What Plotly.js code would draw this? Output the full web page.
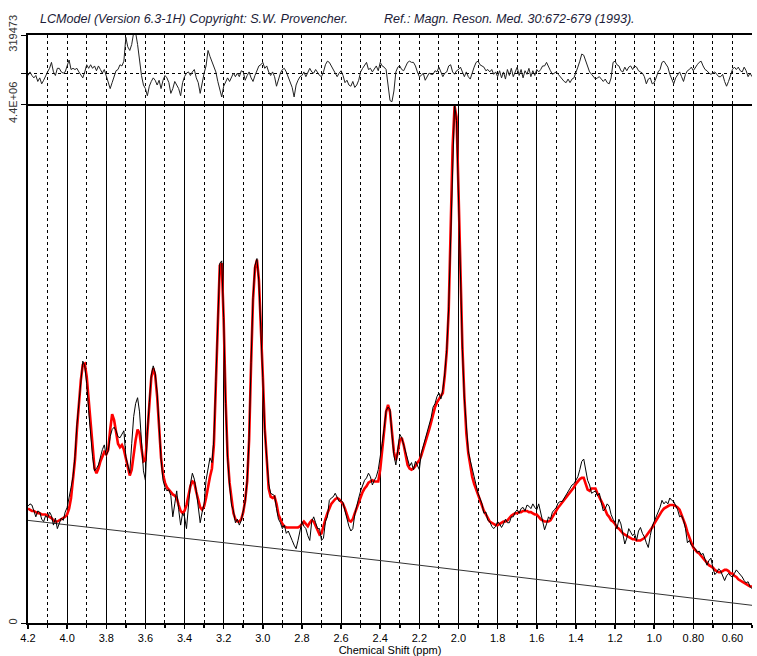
<!DOCTYPE html>
<html>
<head>
<meta charset="utf-8">
<script src="https://cdn.plot.ly/plotly-3.0.1.min.js"></script>
<style>html,body{margin:0;padding:0;background:#fff;}#chart{width:757px;height:656px;}</style>
</head>
<body>
<div id="chart"></div>
<script>
// Chemical shift grid: first point 4.20 ppm, step -0.01 ppm (371 points down to 0.50 ppm)
const ppmStart = 4.2;
const ppmStep = -0.01;

// Major ticks (solid grid) and labels, minor ticks (dashed grid)
const majorTicks = [4.2,4.0,3.8,3.6,3.4,3.2,3.0,2.8,2.6,2.4,2.2,2.0,1.8,1.6,1.4,1.2,1.0,0.8,0.6];
const majorLabels = ['4.2','4.0','3.8','3.6','3.4','3.2','3.0','2.8','2.6','2.4','2.2','2.0','1.8','1.6','1.4','1.2','1.0','0.80','0.60'];
const minorTicks = [4.1,3.9,3.7,3.5,3.3,3.1,2.9,2.7,2.5,2.3,2.1,1.9,1.7,1.5,1.3,1.1,0.9,0.7,0.5];
const residGrid = [4.2,4.1,4.0,3.9,3.8,3.7,3.6,3.5,3.4,3.3,3.2,3.1,3.0,2.9,2.8,2.7,2.6,2.5,2.4,2.3,2.2,2.1,2.0,1.9,1.8,1.7,1.6,1.5,1.4,1.3,1.2,1.1,1.0,0.9,0.8,0.7,0.6,0.5];

// Values in units of 1e4 (axis top = 4.4E+06 = 440)
const fitValues = [
97,96,95,95,94,93,93,92,92,92,
91,90,89,87,86,86,87,88,89,90,
92,97,106,121,138,164,187,206,219,220,
209,189,165,145,131,127,131,137,142,145,
143,147,164,177,172,162,152,149,151,147,
139,131,125,130,145,155,164,161,148,137,
138,164,189,208,216,210,192,164,140,126,
119,115,113,111,109,108,106,100,95,93,
95,100,108,116,120,119,111,104,98,96,
99,106,116,124,131,151,202,261,303,305,
257,189,142,119,103,93,88,86,86,88,
94,104,120,155,219,274,301,308,291,257,
210,165,134,114,107,106,107,101,92,87,
84,82,81,81,81,81,81,81,81,82,
84,86,84,82,85,87,86,82,78,75,
76,81,88,93,98,101,103,105,106,105,
103,101,97,92,87,86,88,93,98,102,
107,111,114,116,119,120,121,120,120,120,
130,145,162,179,185,179,162,145,138,145,
155,157,151,142,134,131,130,131,133,136,
138,142,147,152,157,164,170,177,183,187,
190,192,195,210,230,265,333,404,438,429,
367,293,234,192,161,144,132,124,118,113,
108,103,98,95,92,89,86,85,84,83,
83,84,85,86,86,87,89,91,92,93,
93,94,94,95,95,95,94,94,93,92,
92,90,88,87,86,86,86,87,90,92,
95,98,100,102,104,107,109,111,113,115,
118,120,122,123,123,118,113,112,114,114,
114,110,107,103,100,96,92,90,87,86,
84,81,80,78,76,75,74,73,72,71,
71,70,70,70,71,72,74,76,79,81,
84,87,90,92,95,97,98,99,100,100,
100,99,98,96,92,88,83,77,72,68,
64,62,60,59,57,55,53,51,49,48,
47,45,44,43,43,44,45,45,44,42,
42,40,39,37,36,35,34,33,32,31,
31
];

const dataValues = [
99,101,100,94,90,95,94,88,86,91,
89,94,91,83,89,80,84,89,87,94,
98,108,115,124,141,168,188,209,222,218,
203,180,160,141,129,131,134,141,147,151,
142,146,158,164,166,163,158,157,160,163,
141,133,127,152,175,186,191,179,153,129,
121,162,187,210,218,212,195,166,139,121,
115,112,113,108,90,101,112,96,83,93,
90,80,102,118,127,122,112,96,85,94,
101,121,130,140,136,156,205,264,305,307,
259,186,140,117,100,95,85,88,83,87,
95,103,121,157,221,276,303,309,289,254,
208,163,136,118,110,109,108,97,88,85,
80,83,76,78,73,70,66,63,70,79,
86,82,80,74,70,86,90,85,80,80,
70,72,86,90,104,106,107,110,107,103,
104,102,95,88,82,78,80,92,100,106,
112,116,121,123,127,124,117,121,124,130,
140,152,165,180,183,181,160,142,134,150,
160,157,150,145,139,133,136,130,137,133,
130,144,149,156,162,168,174,183,186,192,
195,190,198,212,232,268,330,402,440,426,
364,290,232,190,163,146,138,130,124,117,
110,105,101,93,94,87,86,82,80,82,
86,84,81,84,88,85,85,90,90,94,
96,93,97,98,95,100,99,97,101,98,
96,101,94,86,79,84,90,88,94,96,
98,102,103,103,106,108,112,115,117,118,
121,124,130,137,139,128,121,117,110,111,
112,108,110,102,95,97,101,99,92,88,
85,80,88,84,74,67,72,80,77,74,
76,70,78,81,76,73,68,64,74,82,
86,90,94,98,104,101,103,101,106,104,
103,100,96,90,91,87,80,68,70,66,
64,63,60,61,58,59,54,49,53,55,
47,41,43,46,44,40,36,40,42,40,
39,42,45,43,41,39,36,34,35,31,
29
];

const baselinePpm = [4.2, 2.35, 0.5];
const baselineValues = [87, 52, 15];

// Residual (data - fit), units of 1e4; panel top = 319473
const residValues = [
-2,1,-2,-4,-2,-7,-4,-9,-6,-2,
1,4,9,1,-2,4,4,1,0,1,
7,11,3,4,3,4,1,-2,-4,1,
7,4,7,4,6,2,6,3,0,3,
-2,-7,-13,-8,-3,2,3,7,6,10,
30,22,19,24,34,34,24,10,-2,-10,
-13,-19,-11,-7,-4,-6,-10,-6,-13,-6,
-2,-4,-8,-17,-13,-7,-10,-13,-19,-8,
-3,0,1,-2,1,3,-4,-8,-17,-8,
0,6,19,14,9,4,1,-7,-13,-20,
-11,-7,-4,-7,-4,0,-3,0,-3,2,
1,-6,-2,1,-4,-7,-2,2,6,7,
9,4,6,1,-2,1,-3,-11,-6,0,
3,4,1,-3,-8,-12,-20,-10,-6,-3,
-2,1,-3,1,4,1,0,3,0,-2,
-3,1,7,10,9,6,4,1,-3,0,
2,-2,-8,-6,-10,-11,-7,-12,-10,-6,
1,4,7,9,3,4,1,4,6,2,
9,6,5,3,-8,-23,-24,-15,1,5,
6,3,2,6,9,10,9,9,6,1,
-3,-2,0,-6,-3,0,-1,-1,2,1,
5,1,-3,0,1,6,7,1,-1,2,
3,5,1,-3,1,-3,-5,1,5,9,
10,7,6,5,2,3,1,3,-1,1,
-3,2,-4,1,-5,3,-2,4,-3,1,
5,-2,3,-4,2,-1,4,-3,2,-2,
3,1,3,6,6,9,5,2,-1,0,
1,-1,-3,-5,-7,-8,-5,-8,-5,-4,
0,5,10,16,15,10,5,1,-1,-3,
-5,-4,-3,-5,-7,-5,-8,-9,-4,9,
10,7,6,2,1,5,2,5,6,3,
6,5,2,1,0,-3,-9,-5,-4,-9,
-8,-4,1,3,9,10,7,5,-1,-6,
-9,-4,-1,1,-3,-7,-1,2,3,5,
2,5,7,9,10,6,3,2,0,-1,
0,1,-1,-3,-3,-1,-7,-11,-7,-1,
3,5,3,5,2,1,5,2,-3,0,
-3
];

const titleText = 'LCModel (Version 6.3-1H) Copyright: S.W. Provencher.';
const refText = 'Ref.: Magn. Reson. Med. 30:672-679 (1993).';
const xTitle = 'Chemical Shift (ppm)';

const traces = [
  {type:'scatter', mode:'lines', x:baselinePpm, y:baselineValues, xaxis:'x', yaxis:'y',
   line:{color:'#333', width:1}, hoverinfo:'skip'},
  {type:'scatter', mode:'lines', x0:ppmStart, dx:ppmStep, y:fitValues, xaxis:'x', yaxis:'y',
   line:{color:'#ff0000', width:2.6}, name:'fit'},
  {type:'scatter', mode:'lines', x0:ppmStart, dx:ppmStep, y:dataValues, xaxis:'x', yaxis:'y',
   line:{color:'#000', width:1}, name:'data'},
  {type:'scatter', mode:'lines', x0:ppmStart, dx:ppmStep, y:residValues, xaxis:'x2', yaxis:'y2',
   line:{color:'#222', width:1}, name:'residual'}
];

const fontFam = 'Arial, "Liberation Sans", sans-serif';
const dash = '3px,3px';
const mainFrac = 519/588;

const layout = {
  width:757, height:656,
  margin:{l:28, r:5, t:35, b:33, pad:0},
  paper_bgcolor:'#fff', plot_bgcolor:'#fff',
  showlegend:false,
  font:{family:fontFam, size:11, color:'#000'},
  title:{text:'<i>'+titleText+'</i>', xref:'container', yref:'container',
         x:40/757, xanchor:'left', y:1-19/656, yanchor:'middle',
         font:{family:fontFam, size:12.6, color:'#1c1c38'}},
  annotations:[{text:'<i>'+refText+'</i>', xref:'paper', yref:'paper',
         x:(382-28)/724, y:1+16/588, xanchor:'left', yanchor:'middle', showarrow:false,
         font:{family:fontFam, size:12.6, color:'#1c1c38'}}],
  xaxis:{domain:[0,1], anchor:'y', range:[4.2,0.5], autorange:false,
         tickmode:'array', tickvals:majorTicks, ticktext:majorLabels,
         ticks:'outside', ticklen:4, tickwidth:1.5, tickcolor:'#000',
         tickfont:{size:11, color:'#000'},
         showgrid:true, gridcolor:'#000', gridwidth:1, zeroline:false,
         showline:true, linecolor:'#000', linewidth:2, mirror:false,
         minor:{tickmode:'array', tickvals:minorTicks, ticks:'outside', ticklen:3, tickcolor:'#000',
                showgrid:true, gridcolor:'#000', gridwidth:1, griddash:dash},
         title:{text:xTitle, font:{size:11, color:'#000'}, standoff:3},
         automargin:false},
  yaxis:{domain:[0,mainFrac], anchor:'x', range:[0,440], autorange:false,
         tickmode:'array', tickvals:[0,440], ticktext:['0','4.4E+06'], tickangle:-90,
         ticks:'outside', ticklen:5, tickcolor:'#000', tickfont:{size:11, color:'#333'},
         showgrid:false, zeroline:false, showline:true, linecolor:'#000', linewidth:2,
         automargin:false},
  xaxis2:{domain:[0,1], anchor:'y2', range:[4.2,0.5], autorange:false, matches:'x',
         tickmode:'array', tickvals:residGrid, showticklabels:false, ticks:'',
         showgrid:true, gridcolor:'#000', gridwidth:1, griddash:dash, zeroline:false,
         showline:true, linecolor:'#000', linewidth:2, mirror:true, automargin:false},
  yaxis2:{domain:[mainFrac,1], anchor:'x2', range:[-25.9,31.9473], autorange:false,
         tickmode:'array', tickvals:[0,31.9473], ticktext:['','319473'], tickangle:-90,
         ticks:'outside', ticklen:5, tickcolor:'#000', tickfont:{size:11, color:'#333'},
         showgrid:true, gridcolor:'#000', gridwidth:1, griddash:dash, zeroline:false,
         showline:true, linecolor:'#000', linewidth:2, automargin:false}
};

Plotly.newPlot('chart', traces, layout, {staticPlot:true, displayModeBar:false});
</script>
</body>
</html>
